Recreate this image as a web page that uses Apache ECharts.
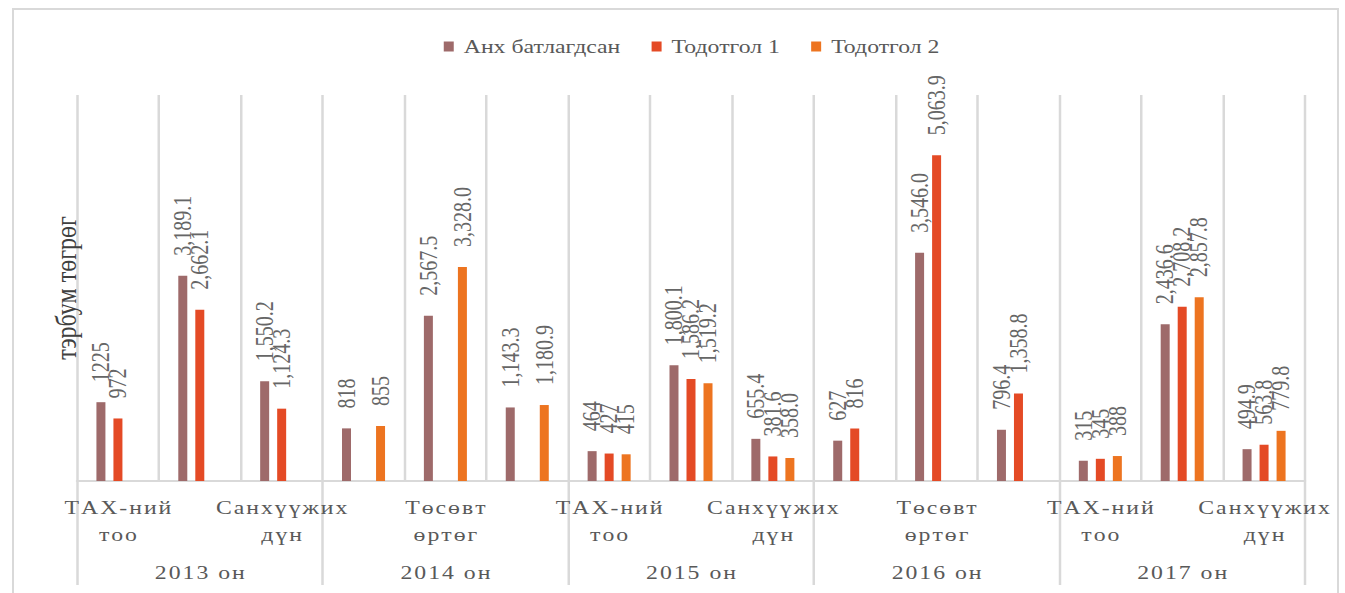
<!DOCTYPE html>
<html>
<head>
<meta charset="utf-8">
<script src="https://cdn.jsdelivr.net/npm/echarts@6/dist/echarts.min.js"></script>
<style>
  html, body { margin: 0; padding: 0; background: #fff; }
  #frame { position: absolute; left: 12px; top: 8px; width: 1327px; height: 600px;
           border: 2px solid #d9d9d9; box-sizing: border-box; }
  /* исходная картинка растянута по горизонтали ~1.25 */
  #chart { position: absolute; left: 0; top: 0; width: 1076px; height: 593px;
           transform: scaleX(1.25); transform-origin: 0 0; }
</style>
</head>
<body>
<div id="frame"></div>
<div id="chart"></div>
<script>
// ---- данные ----
const years = ['2013 он', '2014 он', '2015 он', '2016 он', '2017 он'];
const items = ['ТАХ-ний\nтоо', 'Төсөвт\nөртөг', 'Санхүүжих\nдүн'];
const seriesNames = ['Анх батлагдсан', 'Тодотгол 1', 'Тодотгол 2'];

// по 15 категорий: год × (ТАХ-ний тоо, Төсөвт өртөг, Санхүүжих дүн)
const anhBatlagdsan = [1225, 3189.1, 1550.2, 818, 2567.5, 1143.3, 464, 1800.1, 655.4, 627, 3546.0, 796.4, 315, 2436.6, 494.9];
const todotgol1     = [972, 2662.1, 1124.3, null, null, null, 427, 1586.2, 381.6, 816, 5063.9, 1358.8, 345, 2708.2, 563.8];
const todotgol2     = [null, null, null, 855, 3328.0, 1180.9, 415, 1519.2, 358.0, null, null, null, 388, 2857.8, 779.8];

const colors = ['#9e6a6a', '#e44a25', '#ed7420'];
const textColor = '#595959';
const font = 'Liberation Serif';

// разрядка букв как в оригинале
function spaced(s) {
  return s.split('\n').map(line => line.split('').join('\u200A')).join('\n');
}

const categories = [];
years.forEach(() => items.forEach(it => categories.push(it)));

function fmt(v, idx) {
  if (idx % 3 === 0) return String(v);
  return v.toLocaleString('en-US', { minimumFractionDigits: 1, maximumFractionDigits: 1 });
}

const allData = [anhBatlagdsan, todotgol1, todotgol2];
const series = allData.map((data, si) => ({
  name: seriesNames[si],
  type: 'bar',
  xAxisIndex: 0,
  data: data,
  barWidth: 7.2,
  barGap: '89%',
  itemStyle: { color: colors[si] },
  label: {
    show: true,
    position: 'top',
    rotate: 90,
    align: 'left',
    verticalAlign: 'middle',
    distance: 20,
    color: '#666',
    fontFamily: font,
    fontSize: 20,
    formatter: p => fmt(p.value, p.dataIndex)
  }
}));

const chart = echarts.init(document.getElementById('chart'), null, { renderer: 'svg' });
chart.setOption({
  animation: false,
  color: colors,
  textStyle: { fontFamily: font },
  legend: {
    data: seriesNames,
    top: 32,
    left: 350,
    itemWidth: 8,
    itemHeight: 10,
    itemGap: 25,
    icon: 'rect',
    textStyle: { color: textColor, fontFamily: font, fontSize: 19, padding: [0, 0, 0, 3] }
  },
  grid: { left: 61.6, right: 32, top: 95, bottom: 112, containLabel: false },
  xAxis: [
    {
      type: 'category',
      data: categories,
      position: 'bottom',
      axisLine: { show: true, lineStyle: { color: '#d9d9d9', width: 2 } },
      axisTick: { show: false },
      splitLine: { show: true, interval: 0, lineStyle: { color: '#d9d9d9', width: 2 } },
      axisLabel: {
        interval: 1,
        margin: 13,
        color: textColor,
        fontFamily: font,
        fontSize: 19,
        lineHeight: 27,
        formatter: v => spaced(v)
      }
    },
    {
      type: 'category',
      data: years,
      position: 'bottom',
      axisLine: { show: false },
      axisTick: { show: true, interval: 0, length: 104, lineStyle: { color: '#d9d9d9', width: 2 } },
      splitLine: { show: false },
      axisLabel: {
        interval: 0,
        margin: 82,
        color: textColor,
        fontFamily: font,
        fontSize: 19,
        formatter: v => spaced(v)
      }
    }
  ],
  yAxis: {
    type: 'value',
    min: 0,
    max: 6000,
    name: 'тэрбум төгрөг',
    nameLocation: 'middle',
    nameRotate: 90,
    nameGap: -3,
    nameTextStyle: { color: '#404040', fontFamily: font, fontSize: 24 },
    axisLine: { show: false },
    axisTick: { show: false },
    axisLabel: { show: false },
    splitLine: { show: false }
  },
  series: series
});
</script>
</body>
</html>
